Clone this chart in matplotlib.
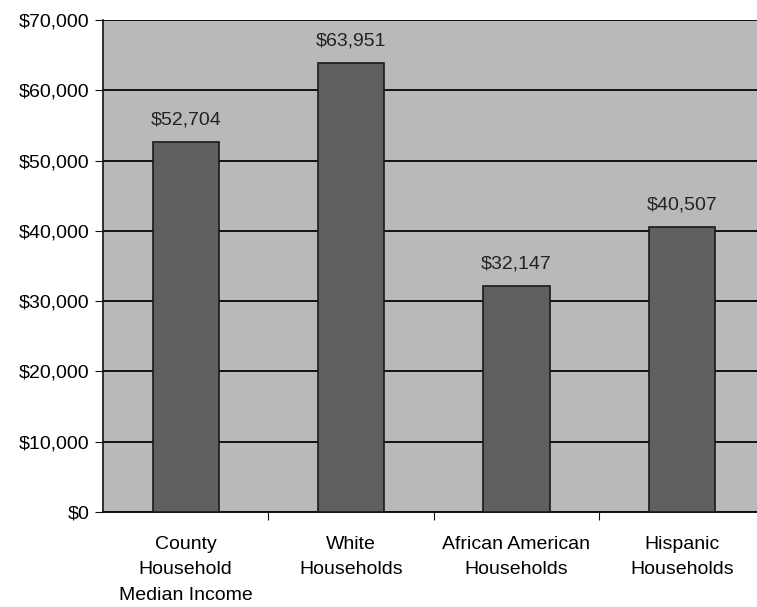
import matplotlib.pyplot as plt
from matplotlib.ticker import FuncFormatter

categories = ['County\nHousehold\nMedian Income', 'White\nHouseholds',
              'African American\nHouseholds', 'Hispanic\nHouseholds']
incomes = [52704, 63951, 32147, 40507]
y_ticks = [0, 10000, 20000, 30000, 40000, 50000, 60000, 70000]

plt.rcParams['font.family'] = ['Liberation Sans', 'DejaVu Sans']

fig = plt.figure(figsize=(7.57, 6.07), dpi=100)
ax = fig.add_axes([103 / 757, 95 / 607, 1 - 103 / 757 + 0.01, (512 - 20) / 607])
ax.set_facecolor('#b9b9b9')

x = range(len(categories))
ax.bar(x, incomes, width=0.4, color='#5e615f', edgecolor='#1a1a1a', linewidth=1.2, zorder=3)

for xi, v in zip(x, incomes):
    ax.text(xi, v + 1900, f'${v:,}', ha='center', va='bottom', fontsize=14, color='#222222')

ax.set_ylim(0, 70000)
ax.set_xlim(-0.5, 3.5)
ax.set_yticks(y_ticks)
ax.yaxis.set_major_formatter(FuncFormatter(lambda v, p: f'${int(v):,}'))
ax.grid(axis='y', color='#111111', linewidth=1.4, zorder=1)

ax.set_xticks([0.5, 1.5, 2.5], minor=False)
ax.set_xticklabels([])
ax.set_xticks(list(x), minor=True)
ax.set_xticklabels(categories, minor=True, fontsize=14, linespacing=1.65)
ax.tick_params(axis='x', which='minor', length=0, pad=17)
ax.tick_params(axis='x', which='major', length=6, direction='out', color='#111111')
ax.tick_params(axis='y', length=6, direction='out', labelsize=14, color='#111111', pad=4)

for side in ['top', 'right']:
    ax.spines[side].set_visible(False)
ax.spines['left'].set_color('#111111')
ax.spines['bottom'].set_color('#111111')
ax.spines['left'].set_linewidth(1.2)
ax.spines['bottom'].set_linewidth(1.4)

fig.savefig('out.png', dpi=100)
